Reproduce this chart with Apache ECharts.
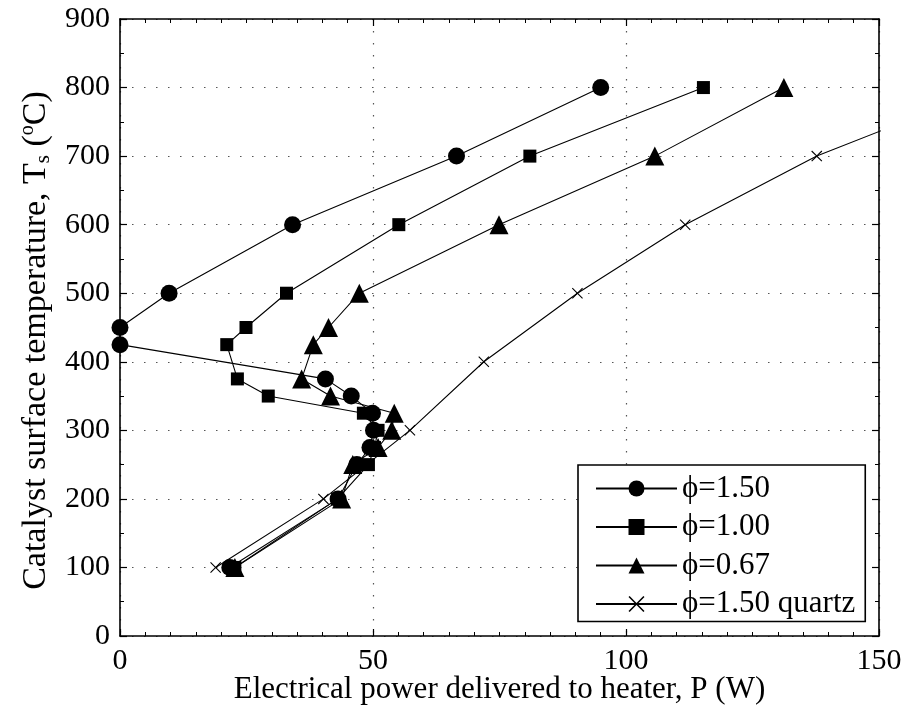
<!DOCTYPE html>
<html>
<head>
<meta charset="utf-8">
<script src="https://cdn.jsdelivr.net/npm/echarts@6/dist/echarts.min.js"></script>
<style>html,body{margin:0;padding:0;background:#fff}#c{width:904px;height:709px}</style>
</head>
<body>
<div id="c"></div>
<script>
// Data: [power W, temperature °C]
const phi150 = [[95.0,800],[66.5,700],[34.1,600],[9.7,500],[0,450],[0,425],[40.6,375],[45.7,350],[49.9,325],[50.1,300],[49.4,275],[46.8,250],[43.1,200],[21.7,100]];
const phi100 = [[115.3,800],[81.0,700],[55.1,600],[32.9,500],[24.9,450],[21.1,425],[23.2,375],[29.3,350],[48.1,325],[51.0,300],[50.3,275],[49.1,250],[43.0,200],[22.7,100]];
const phi067 = [[131.2,800],[105.7,700],[74.9,600],[47.3,500],[41.2,450],[38.2,425],[35.9,375],[41.6,350],[54.2,325],[53.7,300],[51.0,275],[46.0,250],[43.8,200],[22.7,100]];
const phi150q = [[172,800],[137.7,700],[111.7,600],[90.4,500],[71.9,400],[57.3,300],[40.2,200],[18.9,100]];
const seriesNames = ['\u03D5=1.50','\u03D5=1.00','\u03D5=0.67','\u03D5=1.50 quartz'];
const xTicks = {min:0, max:150, interval:50};
const yTicks = {min:0, max:900, interval:100};

const FONT = 'Liberation Serif';
const crossPath = 'path://M0,0.7L0.7,0L5,4.3L9.3,0L10,0.7L5.7,5L10,9.3L9.3,10L5,5.7L0.7,10L0,9.3L4.3,5Z';

function axisBase(extra){
  return Object.assign({
    type:'value',
    axisLine:{show:true, onZero:false, lineStyle:{color:'#000', width:1.6}},
    axisTick:{show:true, inside:true, length:7, lineStyle:{color:'#000', width:1.2}},
    axisLabel:{color:'#000', fontFamily:FONT, fontSize:30, margin:10},
    splitLine:{show:false}
  }, extra);
}
const minorX = {show:true, splitNumber:10, length:4, lineStyle:{color:'#000', width:1}};
const minorY = {show:true, splitNumber:2, length:4, lineStyle:{color:'#000', width:1}};
const gridLine = {show:true, lineStyle:{color:'#555', width:1.2, type:[1.5,10.5]}};

const chart = echarts.init(document.getElementById('c'), null, {renderer:'canvas'});
const mk = (name, data, symbol, size) => ({
  name, type:'line', data, symbol, symbolSize:size, showSymbol:true,
  lineStyle:{color:'#000', width:1.1}, itemStyle:{color:'#000'},
  emphasis:{disabled:true}, animation:false, clip:true
});
chart.setOption({
  animation:false,
  backgroundColor:'#fff',
  grid:{left:120, right:25, top:19, bottom:73, containLabel:false, outerBoundsMode:'none'},
  xAxis:[
    axisBase({min:xTicks.min, max:xTicks.max, interval:xTicks.interval, position:'bottom',
      minorTick:minorX, splitLine:gridLine,
      name:'Electrical power delivered to heater, P (W)', nameLocation:'middle', nameGap:38, nameMoveOverlap:false,
      nameTextStyle:{color:'#000', fontFamily:FONT, fontSize:31}}),
    axisBase({min:xTicks.min, max:xTicks.max, interval:xTicks.interval, position:'top',
      minorTick:minorX, axisLabel:{show:false}})
  ],
  yAxis:[
    axisBase({min:yTicks.min, max:yTicks.max, interval:yTicks.interval, position:'left',
      minorTick:minorY, splitLine:gridLine,
      name:'Catalyst surface temperature, T{sub|s} ({sup|o}C)', nameLocation:'middle', nameGap:64, nameRotate:90,
      nameTextStyle:{color:'#000', fontFamily:FONT, fontSize:34, padding:[0,26,0,0],
        rich:{sub:{fontFamily:FONT, fontSize:21, color:'#000', padding:[15,0,0,0]},
              sup:{fontFamily:FONT, fontSize:20, color:'#000', padding:[0,0,17,0]}}}}),
    axisBase({min:yTicks.min, max:yTicks.max, interval:yTicks.interval, position:'right',
      minorTick:minorY, axisLabel:{show:false}})
  ],
  legend:{
    orient:'vertical', left:578, top:465,
    backgroundColor:'#fff', borderColor:'#000', borderWidth:1.6, borderRadius:0,
    padding:[8,10,2,17], itemGap:7.5, itemWidth:81, itemHeight:20,
    textStyle:{color:'#000', fontFamily:FONT, fontSize:31},
    data:seriesNames
  },
  series:[
    mk(seriesNames[1], phi100, 'rect', 13),
    mk(seriesNames[0], phi150, 'circle', 17),
    mk(seriesNames[2], phi067, 'triangle', 19),
    mk(seriesNames[3], phi150q, crossPath, 11)
  ]
});
</script>
</body>
</html>
